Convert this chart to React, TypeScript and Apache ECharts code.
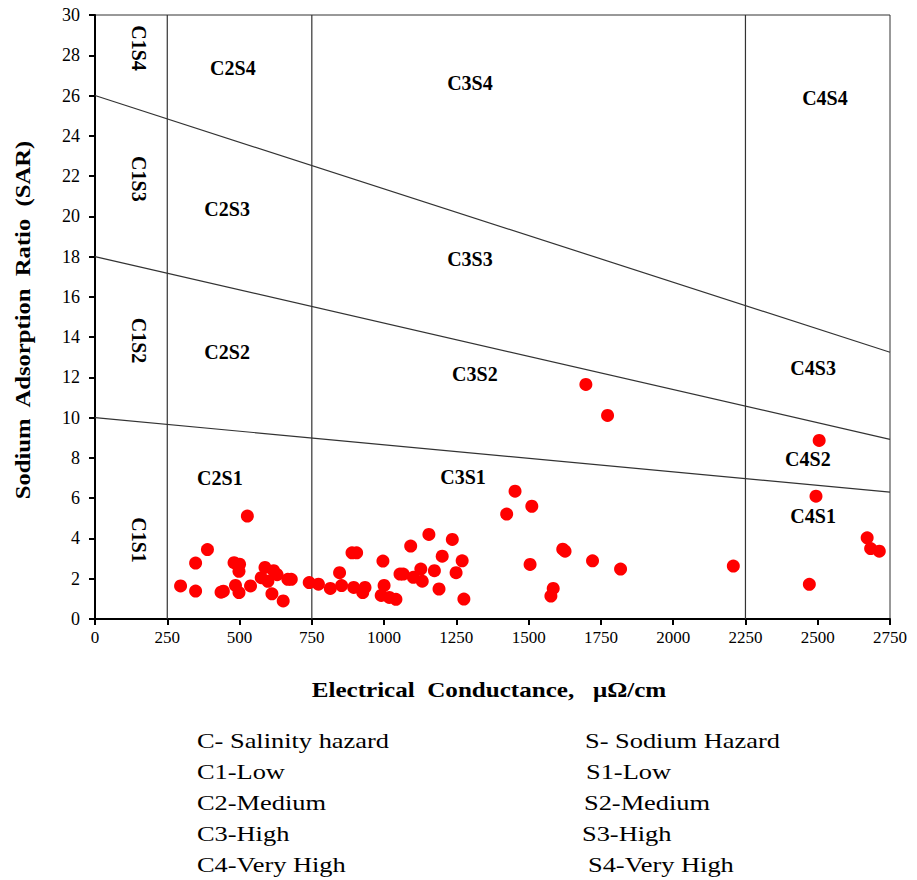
import React, { useEffect, useRef } from "react";
import * as echarts from "echarts";

const xTicks = [0, 250, 500, 750, 1000, 1250, 1500, 1750, 2000, 2250, 2500, 2750];
const yTicks = [0, 2, 4, 6, 8, 10, 12, 14, 16, 18, 20, 22, 24, 26, 28, 30];

// Sample points: [EC, SAR]
const samples: [number, number][] = [
  [296, 1.64], [348, 2.78], [348, 1.39], [389, 3.45], [436, 1.33], [444, 1.38],
  [527, 5.11], [481, 2.8], [500, 2.72], [498, 2.37], [486, 1.67], [498, 1.31],
  [538, 1.64], [588, 2.56], [575, 2.05], [598, 1.87], [618, 2.4], [630, 2.2],
  [612, 1.25], [651, 0.9], [667, 1.97], [679, 1.97], [741, 1.81], [773, 1.73],
  [814, 1.52], [846, 2.3], [853, 1.66], [889, 3.29], [905, 3.29], [895, 1.57],
  [926, 1.31], [934, 1.57], [996, 2.88], [1000, 1.67], [990, 1.17], [1018, 1.07],
  [1041, 0.98], [1092, 3.62], [1055, 2.23], [1066, 2.23], [1101, 2.07], [1127, 2.48],
  [1132, 1.88], [1155, 4.2], [1174, 2.4], [1201, 3.12], [1190, 1.49], [1236, 3.95],
  [1249, 2.3], [1270, 2.89], [1276, 0.99], [1453, 6.35], [1424, 5.21], [1511, 5.6],
  [1505, 2.71], [1618, 3.47], [1626, 3.37], [1585, 1.52], [1577, 1.14], [1721, 2.89],
  [1818, 2.48], [1698, 11.65], [1773, 10.11], [2208, 2.63], [2505, 8.87], [2494, 6.1],
  [2471, 1.72], [2671, 4.03], [2683, 3.5], [2713, 3.37],
];

// Sodium hazard boundaries (SAR at EC=0 and EC=2750)
const sLines: [number, number][][] = [
  [[0, 26], [2750, 13.25]],
  [[0, 18], [2750, 8.92]],
  [[0, 10], [2750, 6.3]],
];

// Salinity hazard boundaries (EC)
const cLines = [250, 750, 2250];

// Class labels: [name, EC, SAR, vertical?]
const classLabels: [string, number, number, boolean][] = [
  ["C1S4", 152, 28.36, true],
  ["C1S3", 152, 21.86, true],
  ["C1S2", 152, 13.83, true],
  ["C1S1", 152, 3.92, true],
  ["C2S4", 477, 27.37, false],
  ["C2S3", 457, 20.38, false],
  ["C2S2", 457, 13.24, false],
  ["C2S1", 432, 6.99, false],
  ["C3S4", 1297, 26.62, false],
  ["C3S3", 1297, 17.9, false],
  ["C3S2", 1314, 12.15, false],
  ["C3S1", 1273, 7.04, false],
  ["C4S4", 2525, 25.88, false],
  ["C4S3", 2484, 12.49, false],
  ["C4S2", 2466, 7.93, false],
  ["C4S1", 2484, 5.11, false],
];

const xTitle = "Electrical  Conductance,   μΩ/cm";
const yTitle = "Sodium  Adsorption  Ratio  (SAR)";

const legendLeft = ["C- Salinity hazard", "C1-Low", "C2-Medium", "C3-High", "C4-Very High"];
const legendRight = ["S- Sodium Hazard", "S1-Low", "S2-Medium", "S3-High", "S4-Very High"];

const SERIF = "'Liberation Serif'";

export default function App() {
  const ref = useRef<HTMLDivElement>(null);
  useEffect(() => {
    if (!ref.current) return;
    const chart = echarts.init(ref.current, null, { renderer: "svg" });
    const lineStyle = { color: "#333", width: 1.2 };
    const series: any[] = [];
    sLines.forEach((seg) => {
      series.push({
        type: "line",
        data: seg,
        symbol: "none",
        lineStyle,
        silent: true,
        z: 2,
      });
    });
    cLines.forEach((x) => {
      series.push({
        type: "line",
        data: [[x, 0], [x, 30]],
        symbol: "none",
        lineStyle,
        silent: true,
        z: 2,
      });
    });
    series.push({
      type: "scatter",
      data: samples,
      symbolSize: 13,
      itemStyle: { color: "#ff0000", opacity: 1 },
      z: 5,
    });
    const mkLabels = (vertical: boolean) => ({
      type: "scatter",
      data: classLabels.filter((l) => l[3] === vertical).map((l) => ({ value: [l[1], l[2]], name: l[0] })),
      symbolSize: 0,
      silent: true,
      z: 4,
      itemStyle: { opacity: 1 },
      label: {
        show: true,
        position: "inside",
        formatter: (p: any) => p.name,
        fontFamily: SERIF,
        fontWeight: "bold",
        fontSize: 20,
        color: "#000",
        rotate: vertical ? -90 : 0,
      },
    });
    series.push(mkLabels(false));
    series.push(mkLabels(true));

    const graphics: any[] = [];
    graphics.push({
      type: "text",
      x: 489,
      y: 690,
      scaleX: 1.14,
      style: {
        text: xTitle,
        font: `bold 22px ${SERIF}`,
        fill: "#000",
        align: "center",
        verticalAlign: "middle",
      },
    });
    graphics.push({
      type: "text",
      x: 22,
      y: 320,
      rotation: Math.PI / 2,
      scaleX: 1.12,
      style: {
        text: yTitle,
        font: `bold 22px ${SERIF}`,
        fill: "#000",
        align: "center",
        verticalAlign: "middle",
      },
    });
    legendLeft.forEach((t, i) => {
      graphics.push({
        type: "text",
        x: 197,
        y: 740 + i * 31,
        scaleX: 1.2,
        style: { text: t, font: `22px ${SERIF}`, fill: "#000", verticalAlign: "middle" },
      });
    });
    const rightX = [585, 586, 584, 582, 588];
    legendRight.forEach((t, i) => {
      graphics.push({
        type: "text",
        x: rightX[i],
        y: 740 + i * 31,
        scaleX: 1.2,
        style: { text: t, font: `22px ${SERIF}`, fill: "#000", verticalAlign: "middle" },
      });
    });

    chart.setOption({
      animation: false,
      backgroundColor: "#fff",
      grid: {
        left: 95,
        right: 27,
        top: 15,
        bottom: 261,
        show: true,
        borderColor: "#333",
        borderWidth: 1,
      },
      xAxis: {
        type: "value",
        min: 0,
        max: 2750,
        interval: 250,
        splitLine: { show: false },
        axisLine: { show: true, lineStyle: { color: "#000", width: 2 } },
        axisTick: { show: true, length: 6, lineStyle: { color: "#000", width: 2 } },
        axisLabel: {
          fontFamily: SERIF,
          fontSize: 17,
          color: "#000",
          margin: 10,
          formatter: (v: number) => (xTicks.includes(v) ? String(v) : ""),
        },
      },
      yAxis: {
        type: "value",
        min: 0,
        max: 30,
        interval: 2,
        splitLine: { show: false },
        axisLine: { show: true, lineStyle: { color: "#000", width: 2 } },
        axisTick: { show: true, length: 6, lineStyle: { color: "#000", width: 2 } },
        axisLabel: {
          fontFamily: SERIF,
          fontSize: 18,
          color: "#000",
          margin: 15,
          formatter: (v: number) => (yTicks.includes(v) ? String(v) : ""),
        },
      },
      series,
      graphic: graphics,
    });
    return () => chart.dispose();
  }, []);
  return (
    <div
      ref={ref}
      style={{ position: "absolute", left: 0, top: 0, width: 917, height: 880 }}
    />
  );
}
